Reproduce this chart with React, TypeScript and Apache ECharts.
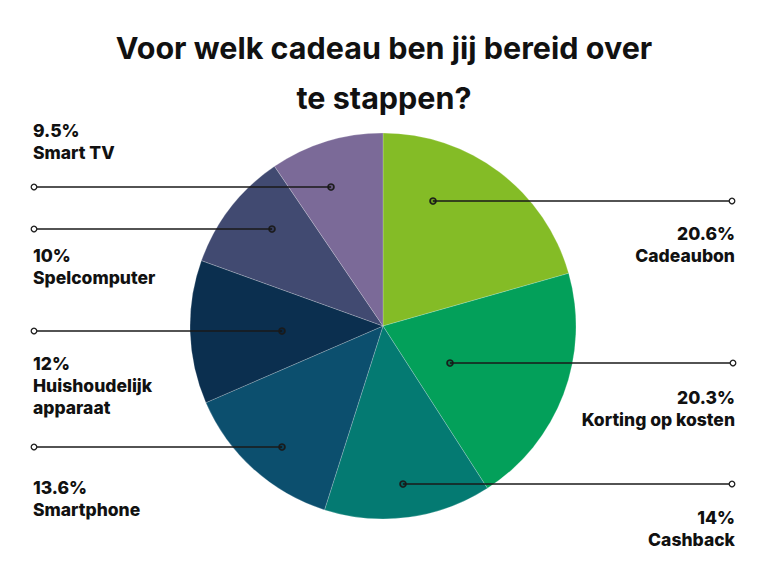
import { useEffect, useRef } from 'react';
import * as echarts from 'echarts';

// survey answers, clockwise from 12 o'clock
const categories = [
  'Cadeaubon',
  'Korting op kosten',
  'Cashback',
  'Smartphone',
  'Huishoudelijk apparaat',
  'Spelcomputer',
  'Smart TV',
];
const shares = [20.6, 20.3, 14, 13.6, 12, 10, 9.5];
const sliceColors = ['#84bc26', '#03a05a', '#047a72', '#0c4f6e', '#0b2f4f', '#414a71', '#7b6a98'];

// leader line placement per slice: line y, inner x, outer x, label top
const leaders = [
  { y: 201, inner: 433, outer: 732, top: 222 },
  { y: 363, inner: 450, outer: 733, top: 386 },
  { y: 484, inner: 403, outer: 732, top: 506 },
  { y: 447, inner: 282, outer: 34, top: 476 },
  { y: 331, inner: 282, outer: 34, top: 352 },
  { y: 229, inner: 272, outer: 34, top: 244 },
  { y: 187, inner: 331, outer: 34, top: 119 },
];

const FONT = 'Inter, "Open Sans", sans-serif';

export default function App() {
  const chartRef = useRef<HTMLDivElement>(null);

  useEffect(() => {
    if (!chartRef.current) return;
    const chart = echarts.init(chartRef.current, null, { renderer: 'svg' });

    const leaderMarks: any[] = [];
    leaders.forEach((l) => {
      leaderMarks.push({
        type: 'line',
        z: 100,
        shape: { x1: l.inner, y1: l.y, x2: l.outer, y2: l.y },
        style: { stroke: '#1a1a1a', lineWidth: 1.6 },
      });
      leaderMarks.push({
        type: 'circle',
        z: 101,
        shape: { cx: l.outer, cy: l.y, r: 2.8 },
        style: { fill: '#fff', stroke: '#222', lineWidth: 1.3 },
      });
      leaderMarks.push({
        type: 'circle',
        z: 101,
        shape: { cx: l.inner, cy: l.y, r: 3 },
        style: { fill: 'rgba(0,0,0,0.2)', stroke: '#1a1a1a', lineWidth: 1.6 },
      });
    });

    chart.setOption({
      animation: false,
      backgroundColor: '#ffffff',
      title: {
        text: 'Voor welk cadeau ben jij bereid over\nte stappen?',
        left: 'center',
        top: 17,
        textStyle: {
          fontFamily: FONT,
          fontSize: 30.5,
          fontWeight: 'bold',
          color: '#111',
          lineHeight: 50,
          letterSpacing: -0.5,
        },
      },
      graphic: leaderMarks,
      series: [
        {
          type: 'pie',
          center: [383, 326],
          radius: [0, 193],
          startAngle: 90,
          clockwise: true,
          silent: true,
          itemStyle: { borderColor: 'rgba(255,255,255,0.35)', borderWidth: 0.6 },
          data: categories.map((name, i) => ({
            name,
            value: shares[i],
            itemStyle: { color: sliceColors[i] },
          })),
          label: {
            show: true,
            position: 'outer',
            overflow: 'none',
            formatter: (p: any) =>
              `{p|${p.value}%}\n{n|${String(p.name).replace('Huishoudelijk ', 'Huishoudelijk\n')}}`,
            rich: {
              p: { fontFamily: FONT, fontSize: 17.5, fontWeight: 800, color: '#111', lineHeight: 22 },
              n: { fontFamily: FONT, fontSize: 17.5, fontWeight: 800, color: '#111', lineHeight: 22 },
            },
          },
          labelLine: { show: false },
          labelLayout: (params: any) => {
            const l = leaders[params.dataIndex];
            const right = l.outer > 383;
            return {
              x: right ? 735 : 33,
              y: l.top,
              align: right ? 'right' : 'left',
              verticalAlign: 'top',
            };
          },
        },
      ],
    });

    return () => chart.dispose();
  }, []);

  return (
    <div
      ref={chartRef}
      style={{ position: 'fixed', left: 0, top: 0, width: 768, height: 576 }}
    />
  );
}
